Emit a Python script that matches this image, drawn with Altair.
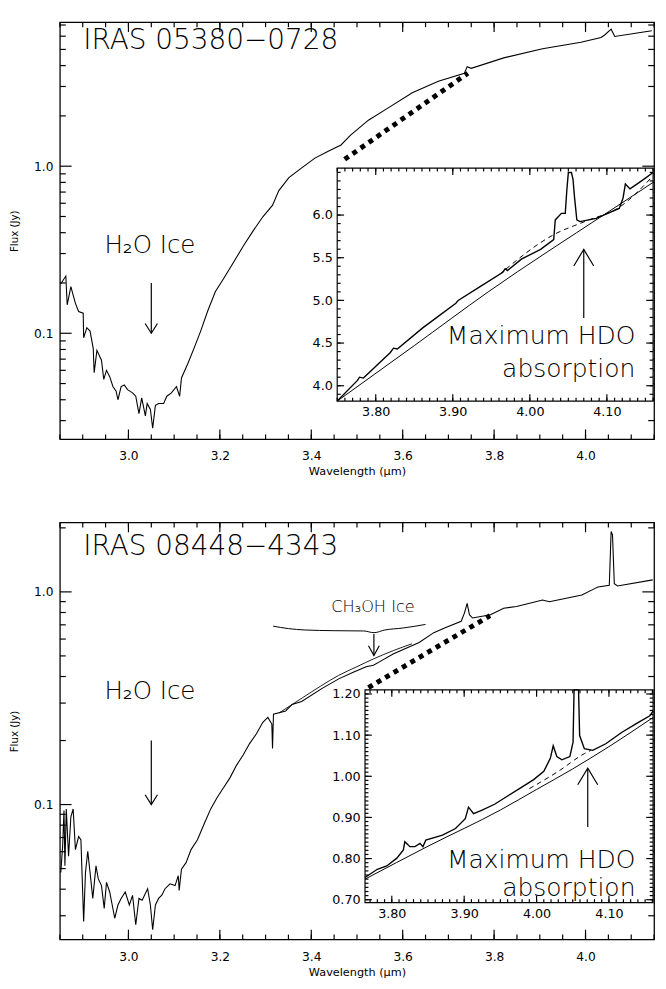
import math
import altair as alt
import pandas as pd

FONT = "DejaVu Sans"
W, H = 607, 426

# ---------------- axes / tick values ----------------
X_DOMAIN = [2.85, 4.15]
X_MAJOR = [3.0, 3.2, 3.4, 3.6, 3.8, 4.0]
X_MINOR = [round(2.85 + 0.05 * i, 2) for i in range(27)]
Y_MAJOR = [0.1, 1.0]
Y1_DOMAIN = [0.0232, 7.27]
Y1_MINOR = [0.03, 0.04, 0.05, 0.06, 0.07, 0.08, 0.09, 0.2, 0.3, 0.4, 0.5, 0.6, 0.7, 0.8, 0.9, 2, 3, 4, 5, 6, 7]
Y2_DOMAIN = [0.0232, 2.12]
Y2_MINOR = [0.03, 0.04, 0.05, 0.06, 0.07, 0.08, 0.09, 0.2, 0.3, 0.4, 0.5, 0.6, 0.7, 0.8, 0.9, 2]

IN_X_MAJOR = [3.8, 3.9, 4.0, 4.1]
IN1_X_DOMAIN = [3.75, 4.16]
IN1_X_MINOR = [round(3.75 + 0.01 * i, 2) for i in range(42)]
IN1_Y_DOMAIN = [3.82, 6.55]
IN1_Y_MAJOR = [4.0, 4.5, 5.0, 5.5, 6.0]
IN1_Y_MINOR = [round(3.9 + 0.1 * i, 1) for i in range(27)]
IN2_X_DOMAIN = [3.763, 4.161]
IN2_X_MINOR = [round(3.77 + 0.01 * i, 2) for i in range(40)]
IN2_Y_DOMAIN = [0.693, 1.21]
IN2_Y_MAJOR = [0.7, 0.8, 0.9, 1.0, 1.1, 1.2]
IN2_Y_MINOR = [round(0.70 + 0.01 * i, 2) for i in range(51)]

# ---------------- spectra (wavelength um, flux Jy) ----------------
SPEC1 = [(2.852, 0.198), (2.863, 0.220), (2.866, 0.148), (2.874, 0.190), (2.884, 0.151),
         (2.891, 0.135), (2.901, 0.132), (2.902, 0.094), (2.909, 0.108), (2.916, 0.103),
         (2.923, 0.081), (2.925, 0.058), (2.931, 0.079), (2.941, 0.069), (2.946, 0.053),
         (2.952, 0.060), (2.959, 0.055), (2.966, 0.048), (2.973, 0.045), (2.977, 0.040),
         (2.984, 0.048), (2.991, 0.049), (2.998, 0.046), (3.009, 0.044), (3.016, 0.042),
         (3.023, 0.033), (3.029, 0.041), (3.037, 0.032), (3.041, 0.038), (3.048, 0.035),
         (3.053, 0.027), (3.059, 0.037), (3.066, 0.038), (3.077, 0.038), (3.084, 0.042),
         (3.094, 0.044), (3.105, 0.048), (3.112, 0.042), (3.116, 0.054), (3.130, 0.066),
         (3.144, 0.082), (3.158, 0.103), (3.173, 0.135), (3.190, 0.177), (3.208, 0.212),
         (3.230, 0.266), (3.251, 0.332), (3.272, 0.407), (3.294, 0.498), (3.315, 0.583),
         (3.329, 0.714), (3.351, 0.854), (3.379, 0.977), (3.408, 1.118), (3.436, 1.224),
         (3.465, 1.340), (3.486, 1.533), (3.525, 1.885), (3.564, 2.196), (3.621, 2.751),
         (3.678, 3.220), (3.735, 3.602), (3.741, 3.943), (3.750, 3.853), (3.821, 4.450),
         (3.906, 5.050), (3.990, 5.520), (4.034, 5.900), (4.042, 6.100), (4.056, 6.610),
         (4.064, 5.980), (4.120, 6.320), (4.145, 6.460)]

IN1_SPEC = [(3.750, 3.816), (3.776, 4.060), (3.779, 4.100), (3.784, 4.090), (3.819, 4.390),
            (3.823, 4.440), (3.828, 4.430), (3.861, 4.678), (3.904, 4.966), (3.907, 5.000),
            (3.938, 5.176), (3.965, 5.330), (3.968, 5.370), (3.971, 5.350), (3.989, 5.483),
            (4.014, 5.598), (4.031, 5.713), (4.033, 5.943), (4.041, 6.020), (4.046, 6.020),
            (4.048, 6.287), (4.050, 6.498), (4.054, 6.498), (4.056, 6.422), (4.058, 6.210),
            (4.061, 5.943), (4.065, 5.923), (4.086, 5.962), (4.116, 6.077), (4.121, 6.200),
            (4.124, 6.364), (4.130, 6.307), (4.145, 6.400), (4.160, 6.498)]
IN1_CONT = [(3.750, 3.816), (3.850, 4.470), (3.946, 5.100), (4.099, 6.020), (4.160, 6.383)]
IN1_DASH = [(3.960, 5.300), (4.031, 5.770), (4.073, 5.930), (4.116, 6.090), (4.160, 6.460)]

SPEC2 = [(2.852, 0.0479), (2.856, 0.0636), (2.859, 0.0938), (2.861, 0.0515), (2.864, 0.0954),
         (2.869, 0.0572), (2.874, 0.0874), (2.879, 0.0954), (2.884, 0.0614), (2.891, 0.0707),
         (2.896, 0.0683), (2.902, 0.0282), (2.906, 0.0479), (2.911, 0.0603), (2.916, 0.0479),
         (2.922, 0.0362), (2.929, 0.0515), (2.934, 0.0447), (2.941, 0.0416), (2.947, 0.0325),
         (2.952, 0.0431), (2.959, 0.0388), (2.970, 0.0292), (2.977, 0.0337), (2.984, 0.0362),
         (2.993, 0.0388), (3.002, 0.0337), (3.009, 0.0374), (3.016, 0.0272), (3.023, 0.0362),
         (3.030, 0.0355), (3.042, 0.0402), (3.048, 0.0337), (3.053, 0.0258), (3.059, 0.0337),
         (3.066, 0.0362), (3.073, 0.0375), (3.080, 0.0402), (3.091, 0.0424), (3.102, 0.0416),
         (3.109, 0.0463), (3.111, 0.0395), (3.116, 0.0497), (3.126, 0.0533), (3.137, 0.0614),
         (3.151, 0.0683), (3.166, 0.0814), (3.180, 0.0954), (3.194, 0.108), (3.208, 0.120),
         (3.222, 0.1335), (3.237, 0.1537), (3.251, 0.171), (3.265, 0.1935), (3.280, 0.2151),
         (3.294, 0.2435), (3.305, 0.2568), (3.3137, 0.2391), (3.3152, 0.1835), (3.3173, 0.266),
         (3.344, 0.2754), (3.358, 0.2957), (3.379, 0.305), (3.422, 0.350), (3.460, 0.390),
         (3.493, 0.420), (3.520, 0.445), (3.536, 0.452), (3.550, 0.470), (3.579, 0.510),
         (3.636, 0.578), (3.668, 0.643), (3.693, 0.678), (3.728, 0.7275), (3.735, 0.7948),
         (3.741, 0.884), (3.746, 0.781), (3.753, 0.7536), (3.792, 0.781), (3.821, 0.838),
         (3.849, 0.853), (3.906, 0.916), (3.921, 0.899), (3.992, 0.966), (4.020, 1.036),
         (4.027, 1.054), (4.052, 1.074), (4.056, 1.923), (4.059, 1.855), (4.063, 1.092),
         (4.070, 1.066), (4.147, 1.139)]
CONT2 = [(3.330, 0.270), (3.380, 0.317), (3.420, 0.360), (3.460, 0.405), (3.500, 0.445),
         (3.537, 0.485), (3.580, 0.530), (3.620, 0.570)]

IN2_SPEC = [(3.763, 0.754), (3.780, 0.774), (3.793, 0.782), (3.807, 0.801), (3.816, 0.821),
            (3.818, 0.841), (3.825, 0.829), (3.832, 0.829), (3.839, 0.837), (3.843, 0.829),
            (3.847, 0.845), (3.870, 0.857), (3.888, 0.873), (3.9015, 0.897), (3.906, 0.925),
            (3.913, 0.909), (3.924, 0.917), (3.942, 0.932), (3.960, 0.952), (3.978, 0.972),
            (3.996, 0.992), (4.010, 1.012), (4.019, 1.0436), (4.023, 1.074), (4.028, 1.048),
            (4.035, 1.040), (4.046, 1.048), (4.0504, 1.083), (4.0518, 1.900), (4.058, 1.900),
            (4.0595, 1.099), (4.066, 1.067), (4.0775, 1.063), (4.0956, 1.079), (4.118, 1.107),
            (4.1407, 1.131), (4.1565, 1.147), (4.161, 1.159)]
IN2_CONT = [(3.763, 0.750), (3.850, 0.830), (3.950, 0.918), (4.000, 0.968), (4.050, 1.018),
            (4.100, 1.072), (4.161, 1.143)]
IN2_DASH = [(3.990, 0.970), (4.030, 1.012), (4.066, 1.055), (4.075, 1.063)]

# annotation anchors (data coordinates)
CONNECT1 = [(3.473, 1.099), (3.7425, 3.60)]
CONNECT2 = [(3.525, 0.355), (3.791, 0.773)]
BRACE2 = [(3.3165, 0.690), (3.350, 0.672), (3.386, 0.662), (3.450, 0.657), (3.5145, 0.655),
          (3.5374, 0.643), (3.561, 0.662), (3.600, 0.676), (3.650, 0.703)]


def scale(domain, rng=None, log=False, clamp=False):
    kw = {"domain": domain, "nice": False}
    if log:
        kw["type"] = "log"
    else:
        kw["zero"] = False
    if rng is not None:
        kw["range"] = rng
    if clamp:
        kw["clamp"] = True
    return alt.Scale(**kw)


def shift(v, px, dom, span, log=False):
    """value lying px pixels away from v (towards the other end of the domain)"""
    if log:
        ppd = span / (math.log10(dom[1]) - math.log10(dom[0]))
        return v * 10 ** (px / ppd)
    return v + px * (dom[1] - dom[0]) / span


def label_axis(orient, values, offset, fmt, fs, pad, tfs=11, tpad=4):
    return alt.Axis(orient=orient, values=values, offset=offset, domain=False, grid=False,
                    ticks=False, tickSize=0, labels=True, format=fmt, labelFontSize=fs,
                    labelPadding=pad, labelFlush=False, labelOverlap=False,
                    labelColor="black", labelFont=FONT, titleFontSize=tfs,
                    titlePadding=tpad, titleFont=FONT, titleFontWeight="normal",
                    titleColor="black", zindex=1)


def label_layer(xs, ys, xdom, ydom, xaxis=None, yaxis=None, xtitle=None, ytitle=None):
    df = pd.DataFrame({"lam": xdom, "flux": ydom})
    return alt.Chart(df).mark_point(opacity=0, size=0).encode(
        x=alt.X("lam:Q", scale=xs, axis=xaxis, title=xtitle),
        y=alt.Y("flux:Q", scale=ys, axis=yaxis, title=ytitle))


def tick_lines(values, xs, ys, edge, tip, vertical, strokeWidth=1.2):
    # every tick drawn as a short two-point line from the frame edge inwards
    lam, flux, tid = [], [], []
    for i, v in enumerate(values):
        for e in (edge, tip):
            if vertical:
                lam.append(v)
                flux.append(e)
            else:
                lam.append(e)
                flux.append(v)
            tid.append(i)
    df = pd.DataFrame({"lam": lam, "flux": flux, "tid": tid})
    return alt.Chart(df).mark_line(color="black", strokeWidth=strokeWidth).encode(
        x=alt.X("lam:Q", scale=xs, axis=None),
        y=alt.Y("flux:Q", scale=ys, axis=None),
        detail="tid:N")


def line_layer(pairs, xs, ys, **mark):
    df = pd.DataFrame(pairs, columns=["lam", "flux"])
    return alt.Chart(df).mark_line(**mark).encode(
        x=alt.X("lam:Q", scale=xs, axis=None),
        y=alt.Y("flux:Q", scale=ys, axis=None))


def text_layer(rows, xs, ys, **mark):
    df = pd.DataFrame(rows, columns=["lam", "flux", "label"])
    return alt.Chart(df).mark_text(font=FONT, color="black", **mark).encode(
        x=alt.X("lam:Q", scale=xs, axis=None),
        y=alt.Y("flux:Q", scale=ys, axis=None),
        text="label:N")


def arrow_layers(lam, f_from, f_to, xs, ys, shape, size):
    df = pd.DataFrame({"lam": [lam], "f0": [f_from], "f1": [f_to]})
    shaft = alt.Chart(df).mark_rule(color="black", strokeWidth=1.2).encode(
        x=alt.X("lam:Q", scale=xs, axis=None),
        y=alt.Y("f0:Q", scale=ys, axis=None), y2="f1:Q")
    head = alt.Chart(df).mark_point(shape=shape, size=size, filled=False, color="black",
                                    strokeWidth=1.2, opacity=1).encode(
        x=alt.X("lam:Q", scale=xs, axis=None),
        y=alt.Y("f1:Q", scale=ys, axis=None))
    return [shaft, head]


DOWN = "M-0.63,-1L0,0L0.63,-1"
UP = "M-0.6,1L0,0L0.6,1"


def build_panel(p):
    xs = scale(X_DOMAIN)
    yd = p["ydom"]
    ys = scale(yd, log=True)
    ixr, iyr = p["ixr"], p["iyr"]
    ixd, iyd = p["ixdom"], p["iydom"]
    ixs = scale(ixd, rng=ixr)
    iys = scale(iyd, rng=iyr, clamp=True)
    iw, ih = ixr[1] - ixr[0], iyr[0] - iyr[1]
    L = []
    # ---- main frame: labels + inward ticks on all four sides
    yb = lambda px: shift(yd[0], px, yd, H, log=True)
    yt = lambda px: shift(yd[1], -px, yd, H, log=True)
    xl = lambda px: shift(X_DOMAIN[0], px, X_DOMAIN, W)
    xr = lambda px: shift(X_DOMAIN[1], -px, X_DOMAIN, W)
    L.append(label_layer(xs, ys, X_DOMAIN, yd,
                         xaxis=label_axis("bottom", X_MAJOR, 0, ".1f", 12.5, 11,
                                          tfs=11.5, tpad=4),
                         yaxis=label_axis("left", Y_MAJOR, 0, ".1f", 12.5, 7,
                                          tfs=10.5, tpad=14),
                         xtitle="Wavelength (μm)", ytitle="Flux (Jy)"))
    L.append(tick_lines(X_MAJOR, xs, ys, yd[0], yb(10), True))
    L.append(tick_lines(X_MINOR, xs, ys, yd[0], yb(5), True))
    L.append(tick_lines(X_MAJOR, xs, ys, yd[1], yt(10), True))
    L.append(tick_lines(X_MINOR, xs, ys, yd[1], yt(5), True))
    L.append(tick_lines(Y_MAJOR, xs, ys, X_DOMAIN[0], xl(12), False))
    L.append(tick_lines(p["yminor"], xs, ys, X_DOMAIN[0], xl(6), False))
    L.append(tick_lines(Y_MAJOR, xs, ys, X_DOMAIN[1], xr(12), False))
    L.append(tick_lines(p["yminor"], xs, ys, X_DOMAIN[1], xr(6), False))
    # ---- main spectrum
    L.append(line_layer(p["spec"], xs, ys, color="black", strokeWidth=1.1))
    if p.get("cont") is not None:
        L.append(line_layer(p["cont"], xs, ys, color="black", strokeWidth=0.9,
                            interpolate="monotone"))
    # connector
    L.append(line_layer(p["connect"], xs, ys, color="black", strokeWidth=5,
                        strokeDash=[5, 5], strokeCap="butt"))
    # texts and arrows in main frame
    L.append(text_layer(p["title"], xs, ys, fontSize=28.5, align="left",
                        baseline="alphabetic", fontWeight=200))
    L.append(text_layer(p["ice"], xs, ys, fontSize=25, align="center", baseline="alphabetic",
                        fontWeight=200))
    L += arrow_layers(3.05, 0.2, 0.1, xs, ys, DOWN, 400)
    if p.get("brace") is not None:
        L.append(line_layer(p["brace"], xs, ys, color="black", strokeWidth=1,
                            interpolate="monotone"))
        L.append(text_layer(p["ch3oh"], xs, ys, fontSize=16.5, align="center",
                            baseline="alphabetic", fontWeight=200))
        L += arrow_layers(3.537, 0.634, 0.502, xs, ys, "M-0.55,-1L0,0L0.55,-1", 400)
    # ---- inset box
    box = pd.DataFrame({"x0": [ixd[0]], "x1": [ixd[1]], "y0": [iyd[0]], "y1": [iyd[1]]})
    L.append(alt.Chart(box).mark_rect(fill="white", stroke="black", strokeWidth=1.2).encode(
        x=alt.X("x0:Q", scale=ixs, axis=None), x2="x1:Q",
        y=alt.Y("y0:Q", scale=iys, axis=None), y2="y1:Q"))
    # inset labels and ticks
    iyb = lambda px: shift(iyd[0], px, iyd, ih)
    iyt = lambda px: shift(iyd[1], -px, iyd, ih)
    ixl = lambda px: shift(ixd[0], px, ixd, iw)
    ixrr = lambda px: shift(ixd[1], -px, ixd, iw)
    t, tm = 7, 3.5
    L.append(label_layer(ixs, iys, ixd, iyd,
                         xaxis=label_axis("bottom", IN_X_MAJOR, iyr[0] - H, ".2f", 13, 5),
                         yaxis=label_axis("left", p["iymajor"], -ixr[0], p["iyfmt"], 13, 5)))
    L.append(tick_lines(IN_X_MAJOR, ixs, iys, iyd[0], iyb(t), True))
    L.append(tick_lines(p["ixminor"], ixs, iys, iyd[0], iyb(tm), True))
    L.append(tick_lines(IN_X_MAJOR, ixs, iys, iyd[1], iyt(t), True))
    L.append(tick_lines(p["ixminor"], ixs, iys, iyd[1], iyt(tm), True))
    L.append(tick_lines(p["iymajor"], ixs, iys, ixd[0], ixl(t), False))
    L.append(tick_lines(p["iyminor"], ixs, iys, ixd[0], ixl(tm), False))
    L.append(tick_lines(p["iymajor"], ixs, iys, ixd[1], ixrr(t), False))
    L.append(tick_lines(p["iyminor"], ixs, iys, ixd[1], ixrr(tm), False))
    # inset data
    L.append(line_layer(p["icont"], ixs, iys, color="black", strokeWidth=1,
                        interpolate="monotone"))
    L.append(line_layer(p["idash"], ixs, iys, color="black", strokeWidth=1,
                        strokeDash=[5, 4], interpolate="monotone"))
    L.append(line_layer(p["ispec"], ixs, iys, color="black", strokeWidth=1.4))
    L.append(text_layer(p["itext"], ixs, iys, fontSize=25.5, align="right",
                        baseline="alphabetic", fontWeight=200))
    L += arrow_layers(p["iarrow"][0], p["iarrow"][1], p["iarrow"][2], ixs, iys, UP, 1156)

    return alt.layer(*L).resolve_scale(x="independent", y="independent").properties(
        width=W, height=H)


P1 = dict(ydom=Y1_DOMAIN, yminor=Y1_MINOR, spec=SPEC1, cont=None, connect=CONNECT1,
          title=[(2.901, 5.05, "IRAS 05380−0728")], ice=[(3.047, 0.301, "H₂O Ice")],
          ixdom=IN1_X_DOMAIN, ixr=[283.3, 606], iydom=IN1_Y_DOMAIN, iyr=[387, 149],
          ixminor=IN1_X_MINOR, iymajor=IN1_Y_MAJOR, iyminor=IN1_Y_MINOR, iyfmt=".1f",
          ispec=IN1_SPEC, icont=IN1_CONT, idash=IN1_DASH,
          itext=[(4.137, 4.486, "Maximum HDO"), (4.137, 4.103, "absorption")],
          iarrow=(4.070, 4.793, 5.598))
P2 = dict(ydom=Y2_DOMAIN, yminor=Y2_MINOR, spec=SPEC2, cont=CONT2, connect=CONNECT2,
          title=[(2.901, 1.496, "IRAS 08448−4343")], ice=[(3.047, 0.312, "H₂O Ice")],
          brace=BRACE2, ch3oh=[(3.535, 0.80, "CH₃OH Ice")],
          ixdom=IN2_X_DOMAIN, ixr=[311.7, 606], iydom=IN2_Y_DOMAIN, iyr=[388.3, 171],
          ixminor=IN2_X_MINOR, iymajor=IN2_Y_MAJOR, iyminor=IN2_Y_MINOR, iyfmt=".2f",
          ispec=IN2_SPEC, icont=IN2_CONT, idash=IN2_DASH,
          itext=[(4.1366, 0.7776, "Maximum HDO"), (4.1366, 0.710, "absorption")],
          iarrow=(4.0707, 0.877, 1.0198))

chart = alt.vconcat(build_panel(P1), build_panel(P2), spacing=85, bounds="flush").properties(
    padding={"left": 1, "top": 0, "right": 0, "bottom": 0}
).configure_view(stroke="black", strokeWidth=1.3).configure_axis(
    domain=False, grid=False, labelFont=FONT, titleFont=FONT)

chart.save("out.html", embed_options={"renderer": "svg", "actions": False})
